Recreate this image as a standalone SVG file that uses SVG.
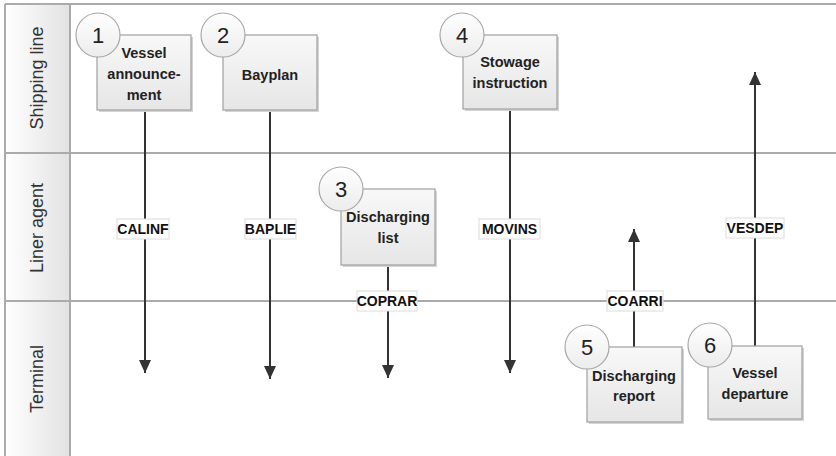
<svg xmlns="http://www.w3.org/2000/svg" width="836" height="456" viewBox="0 0 836 456">
<defs>
<linearGradient id="hdr" x1="0" y1="0" x2="1" y2="0"><stop offset="0" stop-color="#ffffff"/><stop offset="1" stop-color="#e2e2e2"/></linearGradient>
<linearGradient id="box" x1="0" y1="0" x2="0" y2="1"><stop offset="0" stop-color="#f8f8f8"/><stop offset="1" stop-color="#e6e6e6"/></linearGradient>
<linearGradient id="circ" x1="0" y1="0" x2="0" y2="1"><stop offset="0" stop-color="#ffffff"/><stop offset="1" stop-color="#ececec"/></linearGradient>
<marker id="ah" markerUnits="userSpaceOnUse" markerWidth="14" markerHeight="14" viewBox="0 0 14 14" refX="13" refY="7" orient="auto"><path d="M0,1 L13,7 L0,13 Z" fill="#333"/></marker>
<style>
.lane{fill:none;stroke:#ababab;stroke-width:2}
.lt{font-family:"Liberation Sans",Arial,sans-serif;font-size:18px;fill:#333;text-anchor:middle}
.bx{fill:url(#box);stroke:#a0a0a0;stroke-width:1.2}
.sh{fill:#d4d4d4}
.ci{fill:url(#circ);stroke:#a8a8a8;stroke-width:1.2}
.num{font-family:"Liberation Sans",Arial,sans-serif;font-size:22px;fill:#222;text-anchor:middle}
.bt{font-family:"Liberation Sans",Arial,sans-serif;font-size:14.5px;font-weight:bold;fill:#222;text-anchor:middle}
.cn{stroke:#333;stroke-width:2;fill:none;marker-end:url(#ah)}
.lb{fill:#fff;stroke:#dcdcdc;stroke-width:1}
.lbt{font-family:"Liberation Sans",Arial,sans-serif;font-size:14px;font-weight:bold;fill:#111;text-anchor:middle}
</style>
</defs>
<rect width="836" height="456" fill="#fff"/>
<g id="lanes">
<rect x="5" y="4" width="65" height="460" fill="url(#hdr)"/>
<line class="lane" x1="5" y1="4" x2="836" y2="4"/>
<line class="lane" x1="5" y1="153" x2="836" y2="153"/>
<line class="lane" x1="5" y1="301" x2="836" y2="301"/>
<line class="lane" x1="5" y1="4" x2="5" y2="456"/>
<line class="lane" x1="70" y1="4" x2="70" y2="456"/>
<text class="lt" transform="translate(43,78) rotate(-90)">Shipping line</text>
<text class="lt" transform="translate(43,228) rotate(-90)">Liner agent</text>
<text class="lt" transform="translate(43,379) rotate(-90)">Terminal</text>
</g>
<g id="connectors">
<line class="cn" x1="145" y1="110" x2="145" y2="373"/>
<line class="cn" x1="270" y1="110" x2="270" y2="379"/>
<line class="cn" x1="388" y1="265" x2="388" y2="378"/>
<line class="cn" x1="510" y1="109" x2="510" y2="373"/>
<line class="cn" x1="634" y1="347" x2="634" y2="229"/>
<line class="cn" x1="755" y1="346" x2="755" y2="72"/>
<rect class="lb" x="117" y="219" width="52" height="20"/><text class="lbt" x="143" y="234">CALINF</text>
<rect class="lb" x="245" y="219" width="51" height="20"/><text class="lbt" x="270.5" y="234">BAPLIE</text>
<rect class="lb" x="479" y="219" width="61" height="20"/><text class="lbt" x="509.5" y="234">MOVINS</text>
<rect class="lb" x="726" y="218" width="58" height="20"/><text class="lbt" x="755" y="233">VESDEP</text>
<rect class="lb" x="357" y="291" width="60" height="20"/><text class="lbt" x="387" y="306">COPRAR</text>
<rect class="lb" x="607" y="291" width="56" height="20"/><text class="lbt" x="635" y="306">COARRI</text>
</g>
<g id="node1">
<rect class="sh" x="99" y="37" width="94" height="75"/>
<rect class="bx" x="97" y="35" width="94" height="75"/>
<circle class="ci" cx="98" cy="35" r="22"/>
<text class="num" x="98" y="43">1</text>
<text class="bt" x="144" y="58">Vessel</text>
<text class="bt" x="144" y="79">announce-</text>
<text class="bt" x="144" y="100">ment</text>
</g>
<g id="node2">
<rect class="sh" x="225" y="37" width="94" height="75"/>
<rect class="bx" x="223" y="35" width="94" height="75"/>
<circle class="ci" cx="223" cy="35" r="22"/>
<text class="num" x="223" y="43">2</text>
<text class="bt" x="270" y="80">Bayplan</text>
</g>
<g id="node3">
<rect class="sh" x="343" y="191" width="94" height="76"/>
<rect class="bx" x="341" y="189" width="94" height="76"/>
<circle class="ci" cx="341" cy="189" r="22"/>
<text class="num" x="341" y="197">3</text>
<text class="bt" x="388" y="222">Discharging</text>
<text class="bt" x="388" y="243">list</text>
</g>
<g id="node4">
<rect class="sh" x="465" y="37" width="94" height="74"/>
<rect class="bx" x="463" y="35" width="94" height="74"/>
<circle class="ci" cx="462" cy="35" r="22"/>
<text class="num" x="462" y="43">4</text>
<text class="bt" x="510" y="67">Stowage</text>
<text class="bt" x="510" y="88">instruction</text>
</g>
<g id="node5">
<rect class="sh" x="589" y="349" width="95" height="75"/>
<rect class="bx" x="587" y="347" width="95" height="75"/>
<circle class="ci" cx="587" cy="347" r="22"/>
<text class="num" x="587" y="355">5</text>
<text class="bt" x="634" y="381">Discharging</text>
<text class="bt" x="634" y="401">report</text>
</g>
<g id="node6">
<rect class="sh" x="710" y="348" width="94" height="73"/>
<rect class="bx" x="708" y="346" width="94" height="73"/>
<circle class="ci" cx="710" cy="345" r="22"/>
<text class="num" x="710" y="353">6</text>
<text class="bt" x="755" y="378">Vessel</text>
<text class="bt" x="755" y="399">departure</text>
</g>
</svg>
